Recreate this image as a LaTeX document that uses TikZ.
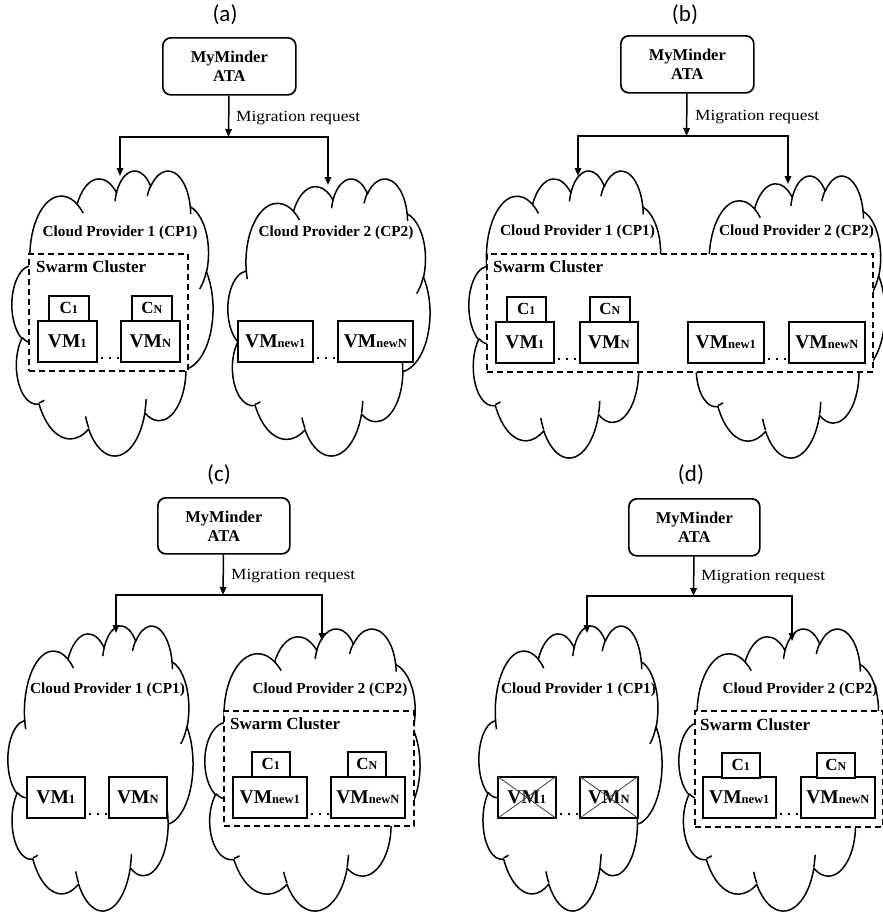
\documentclass[tikz,border=0pt]{standalone}
\usepackage{fontspec}
\setmainfont{Liberation Serif}
\newfontfamily\reqfont{Liberation Serif}[FakeStretch=1.12]
\newfontfamily\tagfont{Carlito}
\usetikzlibrary{arrows.meta}
\newcommand\vmidx[1]{{\fontsize{12.5}{12.5}\selectfont #1}}
\newcommand\cidx[1]{{\fontsize{12}{12}\selectfont #1}}
\tikzset{
  tag/.style={font=\tagfont\fontsize{23}{26}\selectfont, inner sep=0},
  ata/.style={draw, line width=1.7pt, rounded corners=8pt, fill=white,
    minimum width=133pt, minimum height=57pt, align=center, inner sep=0,
    anchor=north west, font=\fontsize{16.5}{19}\selectfont\bfseries},
  req/.style={anchor=west, inner sep=0, font=\reqfont\fontsize{15.5}{17}\selectfont},
  arr/.style={line width=1.5pt, -{Triangle[length=8pt,width=6.5pt]}},
  cloudline/.style={line width=1.5pt, line join=round},
  cplabel/.style={inner sep=0, font=\fontsize{15.3}{17}\selectfont\bfseries},
  swarm/.style={draw, fill=white, line width=1.6pt, dash pattern=on 6pt off 4pt,
    anchor=north west, inner sep=0},
  swarmlabel/.style={anchor=west, inner sep=0, font=\fontsize{17}{19}\selectfont\bfseries},
  vm/.style={draw, fill=white, line width=1.7pt, minimum width=59pt, minimum height=41pt,
    anchor=north west, inner sep=0, font=\fontsize{19.5}{20}\selectfont\bfseries},
  vmnew/.style={vm, minimum width=75pt},
  cbox/.style={draw, fill=white, line width=1.7pt, minimum width=40pt, minimum height=25pt,
    anchor=north west, inner sep=0, font=\fontsize{17}{18}\selectfont\bfseries},
  dotsep/.style={line width=2.4pt, dash pattern=on 2.4pt off 5.6pt, dash phase=5pt},
  cross/.style={line width=0.8pt, black!75},
  % cloud outline in a 4320 x 4320 frame (y downwards), with its inner curls
  puffcloud/.pic={
    \draw[cloudline] (390,1437)
      arc[start angle=-187.745, delta angle=128.108, x radius=675.3, y radius=919.0]
      arc[start angle=-152.02,  delta angle=106.58,  x radius=533.3, y radius=726.7]
      arc[start angle=-153.49,  delta angle=116.14,  x radius=436.5, y radius=594.5]
      arc[start angle=-139.68,  delta angle=129.47,  x radius=485.7, y radius=659.5]
      arc[start angle=-74.77,   delta angle=97.98,   x radius=533.3, y radius=727.3]
      arc[start angle=-37.54,   delta angle=119.40,  x radius=677.5, y radius=922.0]
      arc[start angle=0.46,     delta angle=121.52,  x radius=578.5, y radius=786.7]
      arc[start angle=16.84,    delta angle=129.41,  x radius=675.2, y radius=921.5]
      arc[start angle=58.98,    delta angle=91.22,   x radius=772.0, y radius=1054.3]
      arc[start angle=-276.69,  delta angle=139.82,  x radius=436.0, y radius=591.8]
      arc[start angle=-239.64,  delta angle=143.75,  x radius=434.5, y radius=594.5]
      -- cycle;
    \draw[cloudline]
      (469.3,2617.7) arc[start angle=85.55,   delta angle=34.81, x radius=434.5, y radius=594.5]
      (692.8,3489.9) arc[start angle=68.23,   delta angle=15.08, x radius=436.0, y radius=591.8]
      (1647.8,3909.0) arc[start angle=146.25, delta angle=12.22, x radius=675.2, y radius=921.5]
      (2882.7,3475.1) arc[start angle=4.74,   delta angle=12.10, x radius=675.2, y radius=921.5]
      (3412.9,2295.4) arc[start angle=-64.02, delta angle=64.48, x radius=578.5, y radius=786.7]
      (4179.8,1535.4) arc[start angle=23.21,  delta angle=26.43, x radius=533.3, y radius=727.3]
      (3832.4,542.6) arc[start angle=-10.21,  delta angle=11.03, x radius=485.7, y radius=659.5]
      (2907.8,395.2) arc[start angle=-156.28, delta angle=16.60, x radius=485.7, y radius=659.5]
      (2214.1,472.0) arc[start angle=-167.73, delta angle=14.24, x radius=436.5, y radius=594.5]
      (1400.0,519.2) arc[start angle=-59.64,  delta angle=13.89, x radius=675.3, y radius=919.0]
      (412.7,1578.9) arc[start angle=163.19,  delta angle=9.06,  x radius=675.3, y radius=919.0];
  },
}
% cloud with top-left corner (#1,#2), width #3 and height #4
\newcommand\cloudbox[4]{%
  \begin{scope}[shift={(#1,#2)}, x=#3pt/4320, y=-#4pt/4320]
    \pic {puffcloud};
  \end{scope}}
\begin{document}
\begin{tikzpicture}[x=1pt, y=-1pt]
\useasboundingbox (0,0) rectangle (883,914);

% ---------------- (a) ----------------
\begin{scope}
\node[tag] (a-tag) at (225,15) {(a)};
\cloudbox{12}{170}{201}{285}
\cloudbox{228}{178}{202}{277}
\node[ata] (a-ata) at (162,37) {MyMinder\\ATA};
\coordinate (a-j) at (228.5,137);
\coordinate (a-t1) at (120,176);
\coordinate (a-t2) at (328,185);
\draw[arr] (a-ata) -- (a-j);
\draw[arr] (a-j) -| (a-t1);
\draw[arr] (a-j) -| (a-t2);
\node[req] (a-req) at (236,118) {Migration request};
\node[cplabel] (a-cp1-name) at (120,233) {Cloud Provider 1 (CP1)};
\node[cplabel] (a-cp2-name) at (336,233) {Cloud Provider 2 (CP2)};
\node[swarm, minimum width=159pt, minimum height=117pt] (a-sw) at (28,253) {};
\node[swarmlabel] (a-swl) at (36,267) {Swarm Cluster};
\node[vm] (a-vm1) at (37,320) {VM\vmidx{1}};
\node[cbox] (a-c1) at (48,295) {C\cidx{1}};
\node[vm] (a-vmN) at (120,320) {VM\vmidx{N}};
\node[cbox] (a-cN) at (131,295) {C\cidx{N}};
\draw[dotsep] ([yshift=4.5pt]a-vm1.south east) -- ([yshift=4.5pt]a-vmN.south west);
\node[vmnew] (a-new1) at (237,320) {VM\vmidx{new1}};
\node[vmnew] (a-newN) at (337,320) {VM\vmidx{newN}};
\draw[dotsep] ([yshift=4.5pt]a-new1.south east) -- ([yshift=4.5pt]a-newN.south west);
\end{scope}

% ---------------- (b) ----------------
\begin{scope}[shift={(442,0)}]
\node[tag] (b-tag) at (243,15) {(b)};
\cloudbox{27}{170}{196}{287}
\cloudbox{250}{175}{193}{282}
\node[ata] (b-ata) at (178,35) {MyMinder\\ATA};
\coordinate (b-j) at (244.5,136);
\coordinate (b-t1) at (136,176);
\coordinate (b-t2) at (346,184);
\draw[arr] (b-ata) -- (b-j);
\draw[arr] (b-j) -| (b-t1);
\draw[arr] (b-j) -| (b-t2);
\node[req] (b-req) at (253,117) {Migration request};
\node[cplabel] (b-cp1-name) at (135.5,232) {Cloud Provider 1 (CP1)};
\node[cplabel] (b-cp2-name) at (354.5,232) {Cloud Provider 2 (CP2)};
\node[swarm, minimum width=386pt, minimum height=118pt] (b-sw) at (44,253) {};
\node[swarmlabel] (b-swl) at (51,267) {Swarm Cluster};
\node[vm, minimum width=58pt] (b-vm1) at (53,321) {VM\vmidx{1}};
\node[cbox, minimum width=39pt] (b-c1) at (64,296) {C\cidx{1}};
\node[vm, minimum width=58pt] (b-vmN) at (137,321) {VM\vmidx{N}};
\node[cbox] (b-cN) at (147,296) {C\cidx{N}};
\draw[dotsep] ([yshift=4.5pt]b-vm1.south east) -- ([yshift=4.5pt]b-vmN.south west);
\node[vmnew, minimum width=76pt] (b-new1) at (245,321) {VM\vmidx{new1}};
\node[vmnew, minimum width=76pt] (b-newN) at (346,321) {VM\vmidx{newN}};
\draw[dotsep] ([yshift=4.5pt]b-new1.south east) -- ([yshift=4.5pt]b-newN.south west);
\end{scope}

% ---------------- (c) ----------------
\begin{scope}[shift={(0,460)}]
\node[tag] (c-tag) at (219,15) {(c)};
\cloudbox{8}{165}{185}{285}
\cloudbox{205}{168}{215}{282}
\node[ata, minimum width=132pt, minimum height=56pt] (c-ata) at (157,37) {MyMinder\\ATA};
\coordinate (c-j) at (223,135);
\coordinate (c-t1) at (116,173);
\coordinate (c-t2) at (322,181);
\draw[arr] (c-ata) -- (c-j);
\draw[arr] (c-j) -| (c-t1);
\draw[arr] (c-j) -| (c-t2);
\node[req] (c-req) at (231,116) {Migration request};
\node[cplabel] (c-cp1-name) at (107.5,230) {Cloud Provider 1 (CP1)};
\node[cplabel] (c-cp2-name) at (330,230) {Cloud Provider 2 (CP2)};
\node[vm, minimum width=58pt] (c-vm1) at (26,316) {VM\vmidx{1}};
\node[vm, minimum width=58pt] (c-vmN) at (108,316) {VM\vmidx{N}};
\draw[dotsep] ([yshift=4.5pt]c-vm1.south east) -- ([yshift=4.5pt]c-vmN.south west);
\node[swarm, minimum width=190pt, minimum height=115pt] (c-sw) at (223,250) {};
\node[swarmlabel] (c-swl) at (230,264) {Swarm Cluster};
\node[vmnew, minimum width=74pt] (c-new1) at (232,316) {VM\vmidx{new1}};
\node[cbox, minimum width=38pt] (c-c1) at (251,291) {C\cidx{1}};
\node[vmnew, minimum width=74pt] (c-newN) at (330,316) {VM\vmidx{newN}};
\node[cbox, minimum width=38pt] (c-cN) at (347,291) {C\cidx{N}};
\draw[dotsep] ([yshift=4.5pt]c-new1.south east) -- ([yshift=4.5pt]c-newN.south west);
\end{scope}

% ---------------- (d) ----------------
\begin{scope}[shift={(442,460)}]
\node[tag] (d-tag) at (249,15) {(d)};
\cloudbox{37}{165}{183}{285}
\cloudbox{237}{168}{204}{282}
\node[ata, minimum width=131pt] (d-ata) at (186,38) {MyMinder\\ATA};
\coordinate (d-j) at (251.5,136);
\coordinate (d-t1) at (145,173);
\coordinate (d-t2) at (350,181);
\draw[arr] (d-ata) -- (d-j);
\draw[arr] (d-j) -| (d-t1);
\draw[arr] (d-j) -| (d-t2);
\node[req] (d-req) at (259,117) {Migration request};
\node[cplabel] (d-cp1-name) at (136.5,230) {Cloud Provider 1 (CP1)};
\node[cplabel] (d-cp2-name) at (358,230) {Cloud Provider 2 (CP2)};
\node[vm, minimum width=58pt] (d-vm1) at (55,316) {VM\vmidx{1}};
\node[vm, minimum width=58pt] (d-vmN) at (137,316) {VM\vmidx{N}};
\draw[cross] (d-vm1.north west) -- (d-vm1.south east) (d-vm1.south west) -- (d-vm1.north east);
\draw[cross] (d-vmN.north west) -- (d-vmN.south east) (d-vmN.south west) -- (d-vmN.north east);
\draw[dotsep] ([yshift=4.5pt]d-vm1.south east) -- ([yshift=4.5pt]d-vmN.south west);
\node[swarm, minimum width=188pt, minimum height=116pt] (d-sw) at (252,250) {};
\node[swarmlabel] (d-swl) at (258,265) {Swarm Cluster};
\node[vmnew, minimum width=73pt] (d-new1) at (260,316) {VM\vmidx{new1}};
\node[cbox, minimum width=38pt] (d-c1) at (279,292) {C\cidx{1}};
\node[vmnew, minimum width=74pt] (d-newN) at (358,316) {VM\vmidx{newN}};
\node[cbox, minimum width=38pt] (d-cN) at (374,292) {C\cidx{N}};
\draw[dotsep] ([yshift=4.5pt]d-new1.south east) -- ([yshift=4.5pt]d-newN.south west);
\end{scope}
\end{tikzpicture}
\end{document}
